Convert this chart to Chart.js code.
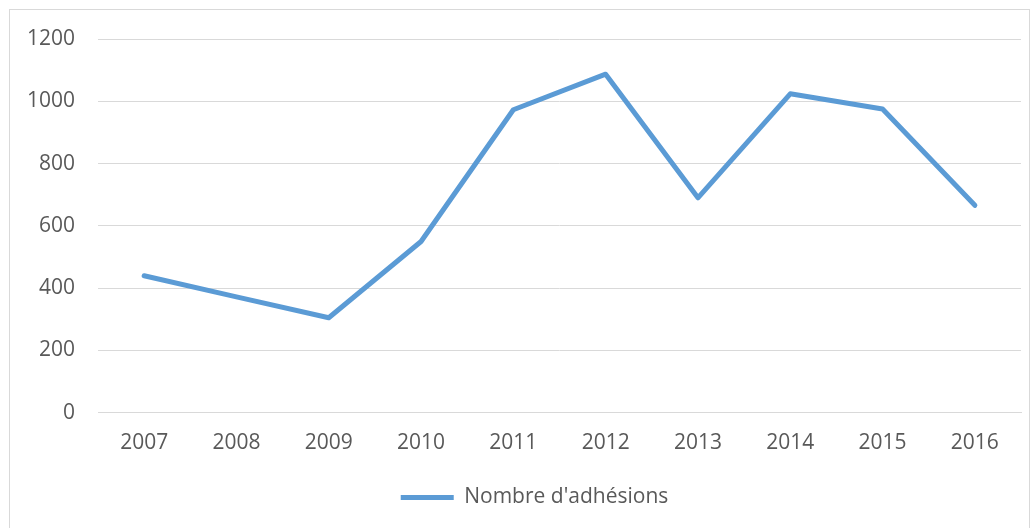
<!DOCTYPE html>
<html>
<head>
<meta charset="utf-8">
<script src="https://cdn.jsdelivr.net/npm/chart.js@4"></script>
<style>
  html, body { margin: 0; padding: 0; background: #fff; }
  #wrap { position: relative; width: 1034px; height: 528px; overflow: hidden; }
  #frame { position: absolute; left: 9px; top: 9px; width: 1021px; height: 540px; border: 1px solid #d9d9d9; box-sizing: border-box; }
  canvas { position: absolute; left: 0; top: 0; }
</style>
</head>
<body>
<div id="wrap">
  <div id="frame"></div>
  <canvas id="c" width="1034" height="528"></canvas>
</div>
<script>
const years = ["2007", "2008", "2009", "2010", "2011", "2012", "2013", "2014", "2015", "2016"];
const adhesions = [440, 372, 305, 550, 973, 1087, 690, 1024, 975, 666];
const seriesLabel = "Nombre d'adhésions";
const yTicks = [0, 200, 400, 600, 800, 1000, 1200];

const FONT = { family: "'Open Sans', 'Liberation Sans', sans-serif", size: 21 };
const TXT = '#595959';

const shiftLegend = {
  id: 'shiftLegend',
  afterUpdate(chart) {
    if (chart.legend) {
      chart.legend.left += 24; chart.legend.right += 24;
      chart.legend.top += 2; chart.legend.bottom += 2;
    }
  }
};

new Chart(document.getElementById('c'), {
  type: 'line',
  data: {
    labels: years,
    datasets: [{
      label: seriesLabel,
      data: adhesions,
      borderColor: '#5B9BD5',
      backgroundColor: '#5B9BD5',
      borderWidth: 5,
      pointRadius: 0,
      tension: 0,
      borderCapStyle: 'round',
      borderJoinStyle: 'round'
    }]
  },
  plugins: [shiftLegend],
  options: {
    responsive: false,
    animation: false,
    layout: { padding: { left: 0, right: 13, top: 39, bottom: 12 } },
    plugins: {
      tooltip: { enabled: false },
      legend: {
        position: 'bottom',
        labels: {
          usePointStyle: true,
          pointStyle: 'line',
          pointStyleWidth: 53,
          color: TXT,
          font: FONT,
          padding: 30
        }
      }
    },
    scales: {
      x: {
        offset: true,
        grid: { display: false, drawTicks: false, offset: true },
        border: { display: true, color: '#d9d9d9', width: 1 },
        ticks: { color: TXT, font: FONT, padding: 18, maxRotation: 0 },
        afterFit: (s) => { s.height = s.height - 19; }
      },
      y: {
        min: yTicks[0],
        max: yTicks[yTicks.length - 1],
        afterBuildTicks: (s) => { s.ticks = yTicks.map(v => ({ value: v })); },
        afterFit: (s) => { s.width = 98; },
        grid: { color: '#d9d9d9', lineWidth: 1, drawTicks: false },
        border: { display: false },
        ticks: { color: TXT, font: FONT, padding: 23, callback: (v) => String(v) }
      }
    }
  }
});
</script>
</body>
</html>
